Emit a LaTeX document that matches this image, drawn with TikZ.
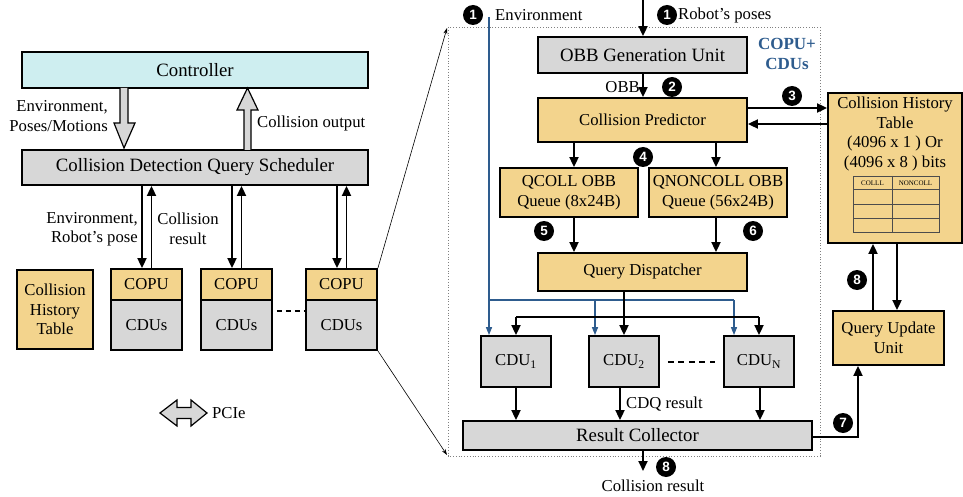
\documentclass[tikz,border=0pt]{standalone}
\usepackage{fontspec}
\setmainfont{Liberation Serif}
\newfontfamily\badgefont{Liberation Sans}
\usetikzlibrary{arrows.meta,calc}
\definecolor{tanc}{HTML}{F3D48D}
\definecolor{grayc}{HTML}{D7D7D7}
\definecolor{cyanc}{HTML}{CEEEF0}
\definecolor{bluec}{HTML}{2E5C8E}
\newcommand\myfs{\fontsize{16.7}{19.5}\selectfont}
\newcommand\mybig{\fontsize{18.8}{22}\selectfont}
\tikzset{
  box/.style={draw, line width=1.8pt, inner sep=0pt, align=center, font=\myfs},
  tanbox/.style={box, fill=tanc},
  graybox/.style={box, fill=grayc},
  arr/.style={line width=1.8pt, -{Triangle[length=10pt,width=9pt]}},
  barr/.style={line width=1.4pt, draw=bluec, -{Triangle[length=8pt,width=6pt]}},
  badge/.style={circle, fill=black, text=white, minimum size=20pt, inner sep=0pt, font=\badgefont\bfseries\fontsize{13.5}{13.5}\selectfont},
  lbl/.style={font=\myfs, inner sep=0pt, align=center},
  blockarrow/.style={draw, fill=grayc, line width=1.2pt, line join=miter},
  zoomline/.style={line width=0.6pt, -{Stealth[length=6pt,width=4pt]}},
}
\begin{document}
\begin{tikzpicture}[x=1pt,y=-1pt]
\useasboundingbox (0,0) rectangle (963,497);

%% ---------------- left part ----------------
\node[box, fill=cyanc, minimum width=346pt, minimum height=36pt, font=\mybig] (ctrl) at (195,70) {Controller};
\node[graybox, minimum width=346pt, minimum height=35pt, font=\mybig] (sched) at (195,167.5) {Collision Detection Query Scheduler};

% block arrows
\draw[blockarrow] (120,88) -- (120,123) -- (114,123) -- (124,148) -- (135,123) -- (128,123) -- (128,88);
\draw[blockarrow] (244,150) -- (244,110) -- (237,110) -- (247.5,88) -- (258,110) -- (251,110) -- (251,150);
\node[lbl, align=right, anchor=east] (envl) at (108,116) {Environment,\\Poses/Motions};
\node[lbl, anchor=west] (colout) at (257,123) {Collision output};

% left CHT
\node[tanbox, minimum width=76pt, minimum height=79pt] (lcht) at (55,309.5) {Collision\\History\\Table};

% COPU / CDU stacks
\foreach \i/\x in {1/146.5, 2/236.5, 3/341.5} {
  \node[tanbox, minimum width=71pt, minimum height=31pt] (copu\i) at (\x,284.5) {COPU};
  \node[graybox, minimum width=71pt, minimum height=50pt] (cdus\i) at (\x,325) {CDUs};
  \coordinate (dn\i) at ($(copu\i.north)+(-4.5,0)$);
  \coordinate (up\i) at ($(copu\i.north)+(5,0)$);
  \draw[arr] (dn\i |- sched.south) -- (dn\i);
  \draw[arr] (up\i) -- (up\i |- sched.south);
}
\node[lbl, align=right, anchor=east] (envr) at (138,229) {Environment,\\Robot’s pose};
\node[lbl] (colres) at (188,229) {Collision\\result};
\draw[line width=2pt, dash pattern=on 5pt off 4pt] (cdus2.east |- 0,311) ++(4,0) -- (cdus3.west |- 0,311);

% PCIe
\draw[blockarrow] (160,413) -- (177,400) -- (177,407.5) -- (191,407.5) -- (191,400) -- (207,413) -- (191,426) -- (191,418.5) -- (177,418.5) -- (177,426) -- cycle;
\node[lbl, anchor=west] (pcie) at (212,413) {PCIe};

%% ---------------- right part ----------------
\draw[gray, line width=0.8pt, dotted] (448,27) rectangle (820,456);
\coordinate (dtl) at (447,28);
\coordinate (dbl) at (447,455);
\draw[zoomline] (copu3.north east) -- (dtl);
\draw[zoomline] (cdus3.south east) -- (dbl);

\node[graybox, minimum width=209pt, minimum height=36pt, font=\mybig] (obb) at (642.5,55) {OBB Generation Unit};
\node[tanbox, minimum width=209pt, minimum height=44pt] (cp) at (642.5,120) {Collision Predictor};
\node[tanbox, minimum width=138pt, minimum height=49pt] (qcoll) at (569,192.5) {QCOLL OBB\\Queue (8x24B)};
\node[tanbox, minimum width=138pt, minimum height=49pt] (qnon) at (718,192.5) {QNONCOLL OBB\\Queue (56x24B)};
\node[tanbox, minimum width=209pt, minimum height=38pt] (qd) at (642.5,272) {Query Dispatcher};
\node[graybox, minimum width=70pt, minimum height=51pt] (cdu1) at (516,361.5) {CDU\textsubscript{1}};
\node[graybox, minimum width=70pt, minimum height=51pt] (cdu2) at (624,361.5) {CDU\textsubscript{2}};
\node[graybox, minimum width=70pt, minimum height=51pt] (cduN) at (759,361.5) {CDU\textsubscript{N}};
\node[graybox, minimum width=349pt, minimum height=29pt, font=\mybig] (rc) at (637.5,435.5) {Result Collector};
\node[tanbox, minimum width=134pt, minimum height=150pt] (cht) at (895,168) {};
\node[tanbox, minimum width=111pt, minimum height=54pt] (quu) at (888.5,338) {Query Update\\Unit};

% CHT contents
\node[lbl, anchor=north] (chttxt) at (895,97) {Collision History\\Table\\(4096 x 1 ) Or\\(4096 x 8 ) bits};
\draw[line width=0.8pt, draw=black!70] (853,176) rectangle (939,232);
\draw[line width=0.8pt, draw=black!70] (892,176) -- (892,232)
  (853,189) -- (939,189) (853,204) -- (939,204) (853,218) -- (939,218);
\node[inner sep=0pt, font=\fontsize{7}{8}\selectfont] (hcol) at (872.5,183) {COLLL};
\node[inner sep=0pt, font=\fontsize{7}{8}\selectfont] (hnon) at (915.5,183) {NONCOLL};

% top inputs
\coordinate (rpin) at (643,0);
\draw[arr] (rpin) -- (rpin |- obb.north);
\node[lbl, anchor=west] (rptxt) at (678,15) {Robot’s poses};
\node[lbl, anchor=west] (envtxt) at (495,15) {Environment};
\node[lbl, anchor=east] (obbtxt) at (640,87) {OBB};
\node[lbl, font=\bfseries\fontsize{17}{20.5}\selectfont, text=bluec] (copucdu) at (787,54) {COPU+\\CDUs};

\draw[arr] (643,0 |- obb.south) -- (643,0 |- cp.north);
\draw[arr] (cp.east |- 0,108) -- (cht.west |- 0,108);
\draw[arr] (cht.west |- 0,124) -- (cp.east |- 0,124);
\draw[arr] (574,0 |- cp.south) -- (574,0 |- qcoll.north);
\draw[arr] (716,0 |- cp.south) -- (716,0 |- qnon.north);
\draw[arr] (574,0 |- qcoll.south) -- (574,0 |- qd.north);
\draw[arr] (716,0 |- qnon.south) -- (716,0 |- qd.north);

% blue environment lines
\coordinate (envtop) at (489,17);
\draw[barr] (envtop) -- (envtop |- cdu1.north);
\draw[line width=1.4pt, draw=bluec] (489,300) -- (734,300);
\draw[barr] (595,300) -- (595,0 |- cdu2.north);
\draw[barr] (734,300) -- (734,0 |- cduN.north);

% dispatcher to CDUs
\draw[line width=1.8pt] (cdu1.north |- 0,317) -- (cduN.north |- 0,317);
\draw[arr] (cdu1.north |- 0,317) -- (cdu1.north);
\draw[arr] (cduN.north |- 0,317) -- (cduN.north);
\draw[arr] (cdu2.north |- qd.south) -- (cdu2.north);
\draw[line width=2pt, dash pattern=on 6pt off 4.5pt] (cdu2.east |- 0,362) ++(8,0) -- ($(cduN.west |- 0,362)+(-8,0)$);

% CDUs to result collector
\draw[arr] (cdu1.south) -- (cdu1.south |- rc.north);
\draw[arr] (620,0 |- cdu2.south) -- (620,0 |- rc.north);
\draw[arr] (760,0 |- cduN.south) -- (760,0 |- rc.north);
\node[lbl, anchor=west] (cdq) at (626,404) {CDQ result};

% result collector outputs
\draw[arr] (rc.east |- 0,437) -- (858,437) -- (858,0 |- quu.south);
\coordinate (cresend) at (643,471);
\draw[arr] (643,0 |- rc.south) -- (cresend);
\node[lbl] (crestxt) at (653,486) {Collision result};

% CHT <-> QUU
\draw[arr] (873,0 |- quu.north) -- (873,0 |- cht.south);
\draw[arr] (897,0 |- cht.south) -- (897,0 |- quu.north);

% badges
\node[badge] (b1a) at (473,15) {1};
\node[badge] (b1b) at (667,15) {1};
\node[badge] (b2) at (672,87) {2};
\node[badge] (b3) at (792,96) {3};
\node[badge] (b4) at (643,157) {4};
\node[badge] (b5) at (544,231) {5};
\node[badge] (b6) at (753,231) {6};
\node[badge] (b7) at (843,423) {7};
\node[badge] (b8a) at (666,467) {8};
\node[badge] (b8b) at (857,280) {8};
\end{tikzpicture}
\end{document}
